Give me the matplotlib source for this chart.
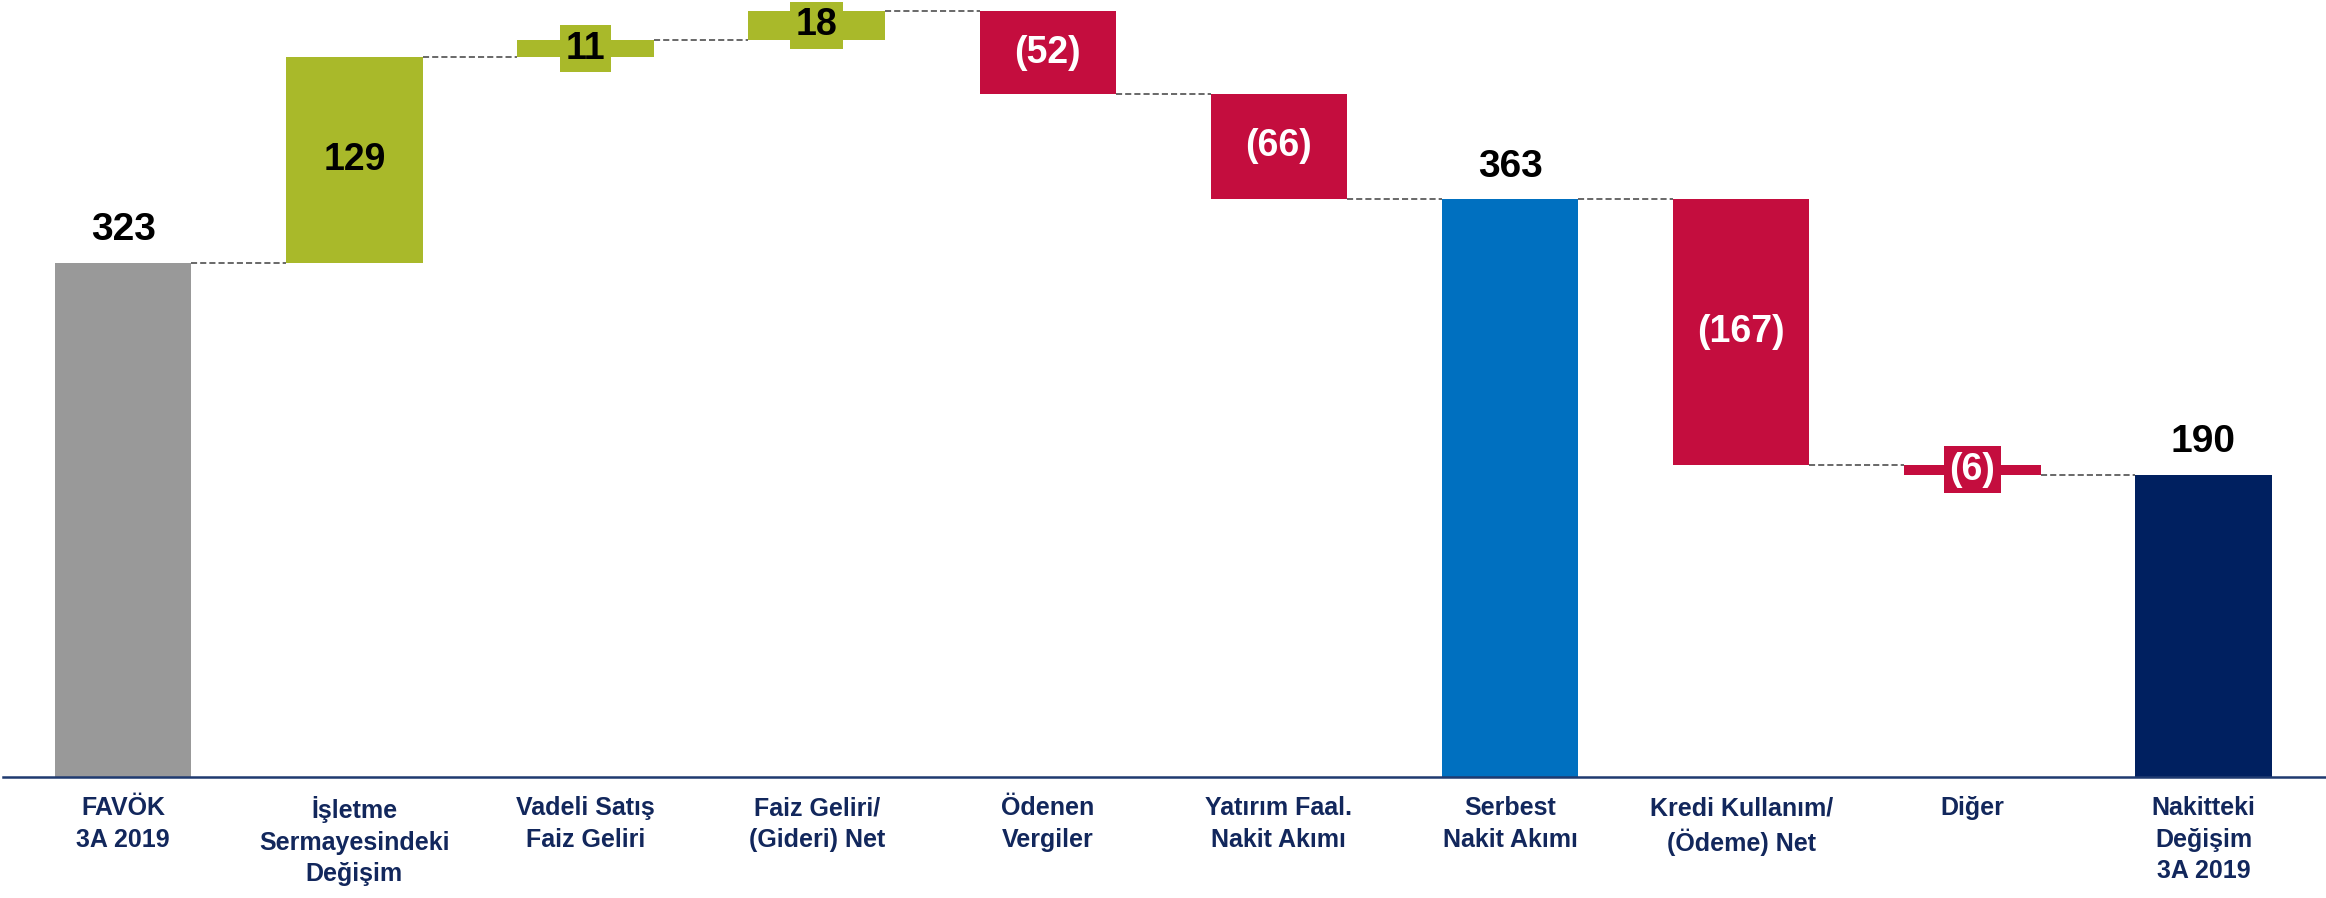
import matplotlib
matplotlib.use('Agg')
import matplotlib.pyplot as plt

# Nakit akimi waterfall verileri (milyon)
categories = ['FAVÖK\n3A 2019', 'İşletme\nSermayesindeki\nDeğişim', 'Vadeli Satış\nFaiz Geliri',
              'Faiz Geliri/\n(Gideri) Net', 'Ödenen\nVergiler', 'Yatırım Faal.\nNakit Akımı',
              'Serbest\nNakit Akımı', 'Kredi Kullanım/\n(Ödeme) Net', 'Diğer',
              'Nakitteki\nDeğişim\n3A 2019']
values = [323, 129, 11, 18, -52, -66, 363, -167, -6, 190]
is_total = [True, False, False, False, False, False, True, False, False, True]
total_colors = ['#999999', None, None, None, None, None, '#0070C0', None, None, '#002060']

GREEN = '#A9B92A'
RED = '#C40D3E'
NAVY = '#12275C'

fig = plt.figure(figsize=(23.26, 8.98), dpi=100)
ax = fig.add_axes([3 / 2326, 0.1347, 1 - 3 / 2326, 1 - 0.1347])

w = 0.59
running = 0
levels = []
for i, v in enumerate(values):
    if is_total[i]:
        bottom, height, color = 0, v, total_colors[i]
        running = v
    else:
        bottom = min(running, running + v)
        height = abs(v)
        color = GREEN if v > 0 else RED
        running = running + v
    levels.append(running)
    ax.bar(i, height, bottom=bottom, width=w, color=color, zorder=2)

    if is_total[i]:
        ax.text(i, v + 9, str(v), ha='center', va='bottom', fontsize=28,
                fontweight='bold', color='black', family='Liberation Sans')
    else:
        txt = str(v) if v > 0 else '(%d)' % abs(v)
        tcol = 'black' if v > 0 else 'white'
        kw = {}
        if height < 25:
            kw['bbox'] = dict(boxstyle='square,pad=0.15', fc=color, ec='none')
        ax.text(i, bottom + height / 2, txt, ha='center', va='center', fontsize=27,
                fontweight='bold', color=tcol, family='Liberation Sans', zorder=3, **kw)

# baglanti cizgileri
for i in range(len(values) - 1):
    ax.plot([i + w / 2, i + 1 - w / 2], [levels[i], levels[i]], ls=(0, (4, 2)),
            color='#404040', lw=1.1, zorder=1)

ax.set_xlim(-0.52, 9.53)
ax.set_ylim(0, 488)
ax.set_xticks(range(len(categories)))
ax.set_xticklabels(categories, fontsize=18, fontweight='bold', color=NAVY,
                   family='Liberation Sans', linespacing=1.38)
ax.tick_params(axis='x', length=0, pad=14)
ax.set_yticks([])
for s in ['top', 'left', 'right']:
    ax.spines[s].set_visible(False)
ax.spines['bottom'].set_color('#1F3A70')
ax.spines['bottom'].set_linewidth(1.8)

fig.savefig('out.png', dpi=100)
